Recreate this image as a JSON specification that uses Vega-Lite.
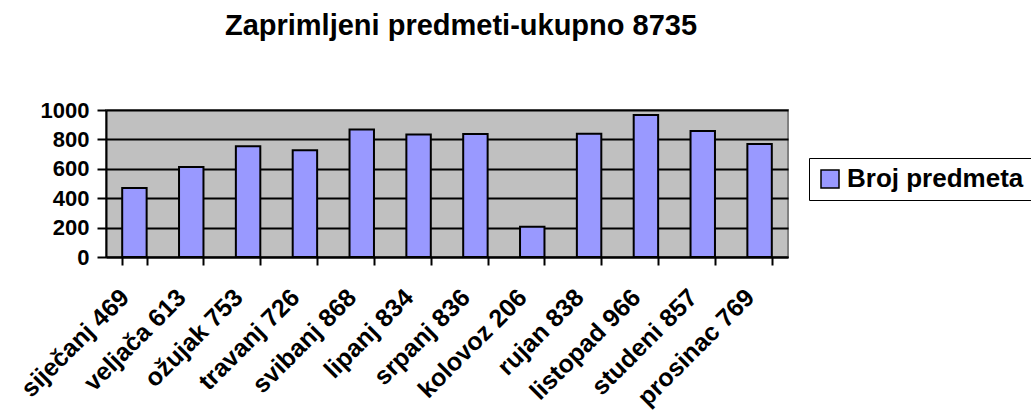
{
  "$schema": "https://vega.github.io/schema/vega-lite/v6.json",
  "autosize": "none",
  "padding": {"left": 106, "top": 110, "right": 243, "bottom": 161},
  "width": 682,
  "height": 147,
  "background": "white",
  "title": {
    "text": "Zaprimljeni predmeti-ukupno 8735",
    "font": "Liberation Sans",
    "fontSize": 29,
    "fontWeight": "bold",
    "color": "black",
    "anchor": "middle",
    "dx": 14,
    "offset": 58
  },
  "data": {
    "values": [
      {"mjesec": "siječanj 469", "serija": "Broj predmeta", "broj": 469},
      {"mjesec": "veljača 613", "serija": "Broj predmeta", "broj": 613},
      {"mjesec": "ožujak 753", "serija": "Broj predmeta", "broj": 753},
      {"mjesec": "travanj 726", "serija": "Broj predmeta", "broj": 726},
      {"mjesec": "svibanj 868", "serija": "Broj predmeta", "broj": 868},
      {"mjesec": "lipanj 834", "serija": "Broj predmeta", "broj": 834},
      {"mjesec": "srpanj 836", "serija": "Broj predmeta", "broj": 836},
      {"mjesec": "kolovoz 206", "serija": "Broj predmeta", "broj": 206},
      {"mjesec": "rujan 838", "serija": "Broj predmeta", "broj": 838},
      {"mjesec": "listopad 966", "serija": "Broj predmeta", "broj": 966},
      {"mjesec": "studeni 857", "serija": "Broj predmeta", "broj": 857},
      {"mjesec": "prosinac 769", "serija": "Broj predmeta", "broj": 769}
    ]
  },
  "config": {
    "view": {"fill": "#C0C0C0", "stroke": "#808080", "strokeWidth": 2},
    "font": "Liberation Sans"
  },
  "mark": {"type": "bar", "stroke": "black", "strokeWidth": 2},
  "encoding": {
    "x": {
      "field": "mjesec",
      "type": "nominal",
      "sort": null,
      "scale": {"paddingInner": 0.57, "paddingOuter": 0.285},
      "axis": {
        "title": null,
        "labelAngle": -45,
        "labelAlign": "right",
        "labelBaseline": "middle",
        "labelFont": "Liberation Sans",
        "labelFontSize": 25,
        "labelFontWeight": "bold",
        "labelColor": "black",
        "labelPadding": 28,
        "labelOffset": -10,
        "labelOverlap": false,
        "labelLimit": 400,
        "tickBand": "extent",
        "tickColor": "black",
        "tickWidth": 2,
        "tickSize": 8,
        "domainColor": "black",
        "domainWidth": 2,
        "grid": false
      }
    },
    "y": {
      "field": "broj",
      "type": "quantitative",
      "scale": {"domain": [0, 1000], "nice": false},
      "axis": {
        "title": null,
        "values": [0, 200, 400, 600, 800, 1000],
        "format": "d",
        "labelFont": "Liberation Sans",
        "labelFontSize": 22,
        "labelFontWeight": "bold",
        "labelColor": "black",
        "labelPadding": 8,
        "tickColor": "black",
        "tickWidth": 2,
        "tickSize": 9,
        "domainColor": "black",
        "domainWidth": 2,
        "grid": true,
        "gridColor": "black",
        "gridWidth": 2,
        "gridOpacity": 1
      }
    },
    "fill": {
      "field": "serija",
      "type": "nominal",
      "scale": {"range": ["#9999FF"]},
      "legend": {
        "title": null,
        "orient": "none",
        "legendX": 703,
        "legendY": 48,
        "symbolType": "square",
        "symbolSize": 324,
        "symbolStrokeColor": "black",
        "symbolStrokeWidth": 1.5,
        "labelFont": "Liberation Sans",
        "labelFontSize": 26,
        "labelFontWeight": "bold",
        "labelColor": "black",
        "labelLimit": 400,
        "labelOffset": 4,
        "fillColor": "white",
        "strokeColor": "black",
        "padding": 8
      }
    }
  }
}
